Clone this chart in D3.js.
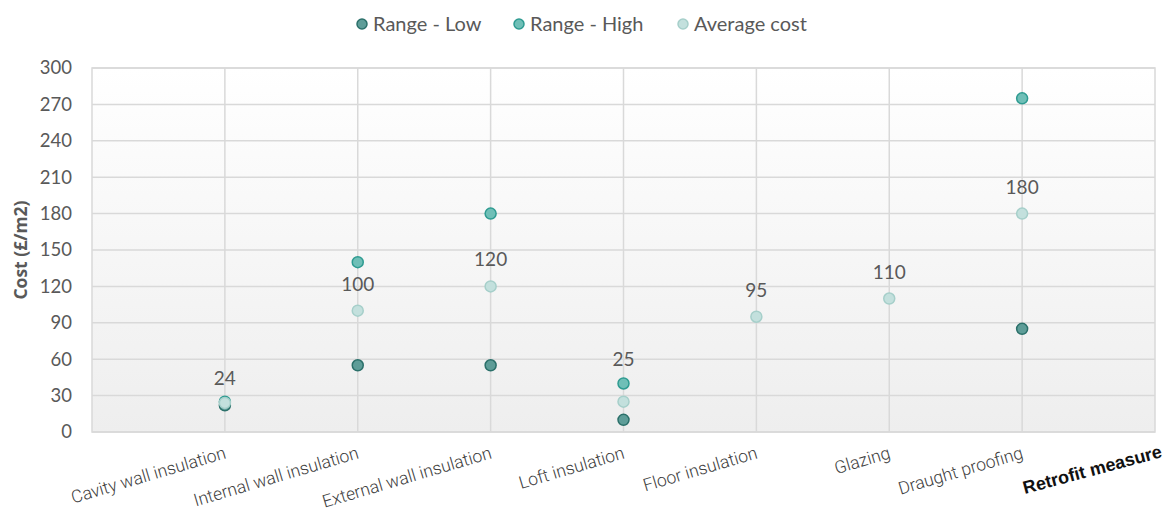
<!DOCTYPE html>
<html><head><meta charset="utf-8">
<script src="https://cdn.jsdelivr.net/npm/d3@7"></script>
<style>body{margin:0;background:#fff;} svg{display:block;}</style>
</head><body>
<svg id="chart" width="1166" height="512"></svg>
<script>
const categories = ["Cavity wall insulation","Internal wall insulation","External wall insulation","Loft insulation","Floor insulation","Glazing","Draught proofing"];
const rangeLow = [22, 55, 55, 10, null, null, 85];
const rangeHigh = [25, 140, 180, 40, null, null, 275];
const averageCost = [24, 100, 120, 25, 95, 110, 180];
const yTicks = [0,30,60,90,120,150,180,210,240,270,300];
const seriesNames = ["Range - Low","Range - High","Average cost"];

const svg = d3.select("#chart");
const L = 92, R = 1155, T = 68, B = 432;
const x = d3.scaleLinear().domain([0, categories.length + 1]).range([L, R]);
const y = d3.scaleLinear().domain([0, 300]).range([B, T]);

const styles = [
  {fill:"#5e9d98", stroke:"#2b706a"},
  {fill:"#6fbfb7", stroke:"#2e9b91"},
  {fill:"#c3e0dd", stroke:"#a6cfca"}
];

const defs = svg.append("defs");
const g = defs.append("linearGradient").attr("id","bg").attr("x1",0).attr("y1",0).attr("x2",0).attr("y2",1);
g.append("stop").attr("offset","0%").attr("stop-color","#ffffff");
g.append("stop").attr("offset","100%").attr("stop-color","#eeeeee");

svg.append("rect").attr("x",L).attr("y",T).attr("width",R-L).attr("height",B-T).attr("fill","url(#bg)");

svg.append("g").selectAll("line").data(yTicks).join("line")
  .attr("x1",L).attr("x2",R).attr("y1",d=>y(d)).attr("y2",d=>y(d))
  .attr("stroke","#d9d9d9").attr("stroke-width",1.5);
svg.append("g").selectAll("line").data(categories).join("line")
  .attr("x1",(d,i)=>x(i+1)).attr("x2",(d,i)=>x(i+1)).attr("y1",T).attr("y2",B)
  .attr("stroke","#d9d9d9").attr("stroke-width",1.5);
svg.append("rect").attr("x",L).attr("y",T).attr("width",R-L).attr("height",B-T)
  .attr("fill","none").attr("stroke","#d9d9d9").attr("stroke-width",1.5);

svg.append("g").selectAll("text").data(yTicks).join("text")
  .attr("x",72).attr("y",d=>y(d)).attr("dy","0.35em").attr("text-anchor","end")
  .attr("font-family","Lato, 'Open Sans', sans-serif").attr("font-size",18.5).attr("fill","#595959")
  .text(d=>d);

svg.append("text").attr("transform","translate(27,250) rotate(-90)").attr("text-anchor","middle")
  .attr("font-family","'Open Sans', Lato, sans-serif").attr("font-weight","bold").attr("font-size",17.5).attr("fill","#595959")
  .text("Cost (£/m2)");

svg.append("g").selectAll("text").data(categories).join("text")
  .attr("transform",(d,i)=>`translate(${x(i+1)+2},458) rotate(-16.5)`)
  .attr("text-anchor","end")
  .attr("font-family","Roboto, sans-serif").attr("font-weight",300).attr("font-size",17.5).attr("fill","#404040")
  .text(d=>d);

svg.append("text").attr("transform",`translate(1163,457) rotate(-15)`)
  .attr("text-anchor","end")
  .attr("font-family","'Liberation Sans', Arial, sans-serif").attr("font-weight","bold").attr("font-size",18).attr("fill","#111")
  .text("Retrofit measure");

const series = [rangeLow, rangeHigh, averageCost];
series.forEach((vals, si) => {
  svg.append("g").selectAll("circle").data(vals.map((v,i)=>({v,i})).filter(d=>d.v!=null)).join("circle")
    .attr("cx",d=>x(d.i+1)).attr("cy",d=>y(d.v)).attr("r",5.5)
    .attr("fill",styles[si].fill).attr("stroke",styles[si].stroke).attr("stroke-width",1.5);
});

// data labels: above average point, or above a close-by high point
const labelY = (d,i) => {
  const h = rangeHigh[i];
  return (h != null && h >= d && h - d < 20) ? y(h) - 17 : y(d) - 20;
};
svg.append("g").selectAll("text").data(averageCost).join("text")
  .attr("x",(d,i)=>x(i+1)).attr("y",(d,i)=>labelY(d,i)).attr("text-anchor","middle")
  .attr("font-family","Lato, 'Open Sans', sans-serif").attr("font-size",19).attr("fill","#595959")
  .text(d=>d);

const legX = [362, 519, 683];
const leg = svg.append("g");
seriesNames.forEach((n,i)=>{
  leg.append("circle").attr("cx",legX[i]).attr("cy",24).attr("r",5)
    .attr("fill",styles[i].fill).attr("stroke",styles[i].stroke).attr("stroke-width",1.5);
  leg.append("text").attr("x",legX[i]+11).attr("y",24).attr("dy","0.35em")
    .attr("font-family","Lato, 'Open Sans', sans-serif").attr("font-size",20).attr("fill","#595959").text(n);
});
</script>
</body></html>
